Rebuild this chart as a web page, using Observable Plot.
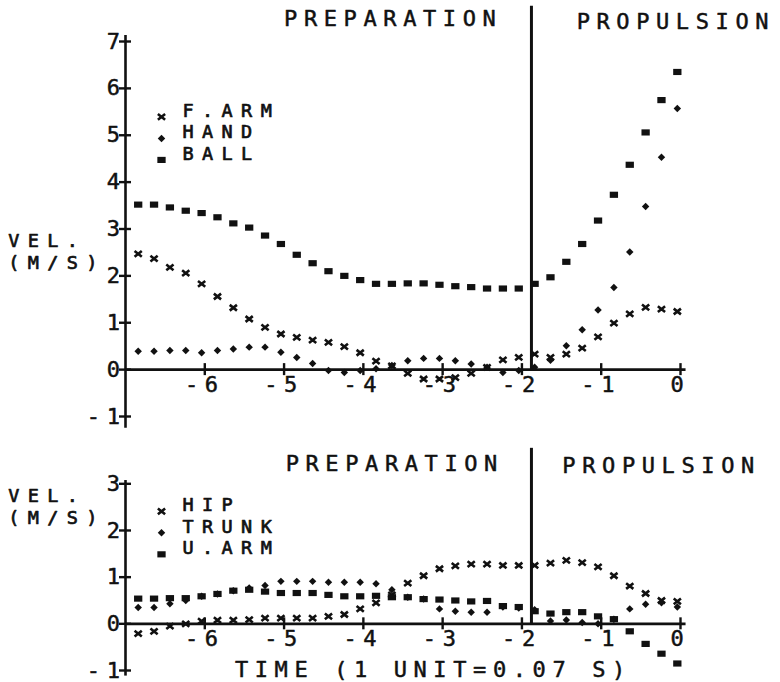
<!DOCTYPE html>
<html><head><meta charset="utf-8">
<script src="https://cdn.jsdelivr.net/npm/d3@7"></script>
<script src="https://cdn.jsdelivr.net/npm/@observablehq/plot@0.6"></script>
<style>
html,body{margin:0;padding:0;background:#fff;}
#chart{position:relative;width:780px;height:682px;overflow:hidden;background:#fff;}
#chart svg{position:absolute;left:0;}
#chart svg text{font-family:'DejaVu Sans Mono',monospace;letter-spacing:6.6px;fill:#111;}
#chart svg g[font-size="18.5"] text{letter-spacing:8.4px;}
</style></head><body><div id="chart"></div>
<script>
// Time axis (1 unit = 0.07 s)
const time = [-6.84,-6.64,-6.44,-6.24,-6.04,-5.84,-5.64,-5.44,-5.24,-5.04,-4.84,-4.64,-4.44,-4.24,-4.04,-3.84,-3.64,-3.44,-3.24,-3.04,-2.84,-2.64,-2.44,-2.24,-2.04,-1.84,-1.64,-1.44,-1.24,-1.04,-0.84,-0.64,-0.44,-0.24,-0.04];

// Upper panel velocities (m/s)
const forearm = [2.47,2.37,2.18,2.06,1.83,1.56,1.32,1.08,0.90,0.76,0.69,0.63,0.58,0.49,0.36,0.18,0.08,-0.08,-0.20,-0.20,-0.17,-0.08,0.05,0.21,0.26,0.33,0.26,0.33,0.46,0.70,0.99,1.19,1.33,1.29,1.24];
const hand    = [0.39,0.39,0.41,0.41,0.36,0.41,0.44,0.48,0.48,0.37,0.26,0.13,-0.02,-0.06,-0.02,0.02,0.09,0.19,0.24,0.24,0.19,0.12,0.05,-0.06,-0.02,0.05,0.20,0.51,0.85,1.27,1.75,2.51,3.48,4.53,5.57];
const ball    = [3.52,3.52,3.46,3.39,3.34,3.25,3.12,3.03,2.86,2.68,2.45,2.27,2.10,2.00,1.91,1.83,1.83,1.84,1.84,1.81,1.78,1.76,1.73,1.73,1.73,1.83,1.97,2.30,2.68,3.18,3.73,4.37,5.06,5.75,6.35];

// Lower panel velocities (m/s)
const hip   = [-0.21,-0.16,-0.05,0.00,0.06,0.08,0.08,0.09,0.12,0.12,0.12,0.12,0.16,0.20,0.32,0.45,0.62,0.87,1.03,1.18,1.24,1.28,1.28,1.25,1.25,1.25,1.30,1.36,1.31,1.22,1.03,0.81,0.65,0.50,0.48];
const trunk = [0.35,0.35,0.43,0.50,0.59,0.64,0.71,0.77,0.82,0.91,0.91,0.91,0.89,0.89,0.89,0.86,0.73,0.57,0.53,0.32,0.27,0.25,0.25,0.36,0.34,0.30,0.06,0.08,0.03,0.00,0.10,0.32,0.42,0.45,0.36];
const uarm  = [0.54,0.54,0.55,0.55,0.59,0.64,0.71,0.73,0.69,0.66,0.66,0.66,0.62,0.59,0.59,0.60,0.57,0.57,0.53,0.52,0.50,0.48,0.49,0.38,0.36,0.27,0.22,0.25,0.25,0.16,0.10,-0.16,-0.43,-0.64,-0.85];

const topSeriesNames = ["F.ARM","HAND","BALL"];
const botSeriesNames = ["HIP","TRUNK","U.ARM"];
const xTicks = [-6,-5,-4,-3,-2,-1,0];
const xTickLabels = ["-6","-5","-4","-3","-2","-1","0"];
const topYTicks = [-1,0,1,2,3,4,5,6,7];
const topYTickLabels = ["-1","0","1","2","3","4","5","6","7"];
const botYTicks = [-1,0,1,2,3];
const botYTickLabels = ["-1","0","1","2","3"];
const phaseNames = ["PREPARATION","PROPULSION"];
const phaseBoundary = -1.88;
const yLabelLines = ["VEL.","(M/S)"];
const xTitle = "TIME (1 UNIT=0.07 S)";

const FS = 22;     // main text size
const FS2 = 18.5;  // stacked labels (legend, y title)
const ink = "#111";

// custom marker shapes
const timesSym = {draw(ctx,size){const s=Math.sqrt(size),a=0.68*s,b=0.54*s;ctx.moveTo(-a,-b);ctx.lineTo(a,b);ctx.moveTo(a,-b);ctx.lineTo(-a,b);}};
const diamondSym = {draw(ctx,size){const s=Math.sqrt(size),a=0.7*s;ctx.moveTo(0,-a);ctx.lineTo(a,0);ctx.lineTo(0,a);ctx.lineTo(-a,0);ctx.closePath();}};
const rectSym = {draw(ctx,size){const s=Math.sqrt(size),w=0.78*s,h=0.58*s;ctx.rect(-w,-h,2*w,2*h);}};
const symbols = [timesSym, diamondSym, rectSym];

function dotOpts(k){
  return k === 0
    ? {r:3,symbol:symbols[k],fill:"none",stroke:ink,strokeWidth:2.6}
    : {r:3,symbol:symbols[k],fill:ink,stroke:"none"};
}

function seriesMarks(values, k){
  const data = time.map((t,i)=>({t, v: values[i]}));
  return Plot.dot(data,{x:"t",y:"v",...dotOpts(k)});
}

function txt(data, opts){
  return Plot.text(data,{fontSize:FS,stroke:ink,strokeWidth:0.5,fill:ink,...opts});
}

function legendMarks(names, yTop, pxPerUnit){
  const stepPx = 21.5;
  const step = stepPx/pxPerUnit, mOff = 7/pxPerUnit;
  const rows = names.map((n,i)=>({n, i, y: yTop - i*step}));
  const xm = -7 + 36/79.29;
  return [
    ...rows.map(r => Plot.dot([r],{x:()=>xm,y:d=>d.y-mOff,...dotOpts(r.i)})),
    txt([names.join("\n")],{x:()=>xm,y:()=>yTop-step,text:d=>d,dx:21,textAnchor:"start",lineAnchor:"middle",fontSize:FS2,strokeWidth:0.7,lineHeight:stepPx/FS2})
  ];
}

function axisMarks(yTicks, yLabels, yMin, yMax, pxPerUnit){
  const tx = 6/79.29, ty = 6/pxPerUnit;
  return [
    Plot.ruleX([-7],{y1:yMin,y2:yMax,stroke:ink,strokeWidth:2.6}),
    Plot.ruleY([0],{x1:-7,x2:0.07,stroke:ink,strokeWidth:2.6}),
    Plot.ruleY(yTicks,{x1:-7-tx,x2:-7+tx,stroke:ink,strokeWidth:2.4}),
    Plot.ruleX(xTicks,{y1:-ty,y2:ty,stroke:ink,strokeWidth:2.4}),
    txt(yTicks,{x:()=>-7,y:d=>d,text:(d,i)=>yLabels[i],textAnchor:"end",dx:1}),
    txt(xTicks,{x:d=>d,y:()=>0,text:(d,i)=>xTickLabels[i],textAnchor:"middle",dy:15})
  ];
}

function yTitle(){
  return txt([yLabelLines.join("\n")],{x:()=>-8.48,y:()=>2.525,text:d=>d,textAnchor:"start",lineAnchor:"middle",fontSize:FS2,strokeWidth:0.7,lineHeight:21.5/FS2});
}

const topPPU = 375/8;
const topPlot = Plot.plot({
  width:780, height:440, marginLeft:125, marginRight:100, marginTop:41, marginBottom:24,
  x:{domain:[-7,0], axis:null}, y:{domain:[-1,7], axis:null},
  style:{background:"transparent", color:ink},
  marks:[
    ...axisMarks(topYTicks, topYTickLabels, -1.25, 7.13, topPPU),
    Plot.ruleX([phaseBoundary],{y1:0,y2:7.75,stroke:ink,strokeWidth:3}),
    txt([phaseNames[0]],{x:()=>-5.0,y:()=>7.48,text:d=>d,textAnchor:"start"}),
    txt([phaseNames[1]],{x:()=>-1.31,y:()=>7.42,text:d=>d,textAnchor:"start"}),
    yTitle(),
    ...legendMarks(topSeriesNames, 5.54, topPPU),
    seriesMarks(forearm,0), seriesMarks(hand,1), seriesMarks(ball,2)
  ]
});
topPlot.style.top = "0px";

const botPPU = 186.7/4;
const botPlot = Plot.plot({
  width:780, height:242, marginLeft:125, marginRight:100, marginTop:43.3, marginBottom:12,
  x:{domain:[-7,0], axis:null}, y:{domain:[-1,3], axis:null},
  style:{background:"transparent", color:ink},
  marks:[
    ...axisMarks(botYTicks, botYTickLabels, -1.12, 3.07, botPPU),
    Plot.ruleX([phaseBoundary],{y1:0,y2:3.76,stroke:ink,strokeWidth:3}),
    txt([phaseNames[0]],{x:()=>-4.98,y:()=>3.42,text:d=>d,textAnchor:"start"}),
    txt([phaseNames[1]],{x:()=>-1.49,y:()=>3.38,text:d=>d,textAnchor:"start"}),
    yTitle(),
    txt([xTitle],{x:()=>-5.62,y:()=>-0.98,text:d=>d,textAnchor:"start"}),
    ...legendMarks(botSeriesNames, 2.56, botPPU),
    seriesMarks(hip,0), seriesMarks(trunk,1), seriesMarks(uarm,2)
  ]
});
botPlot.style.top = "440px";

const chart = document.getElementById("chart");
chart.appendChild(topPlot);
chart.appendChild(botPlot);
</script></body></html>
